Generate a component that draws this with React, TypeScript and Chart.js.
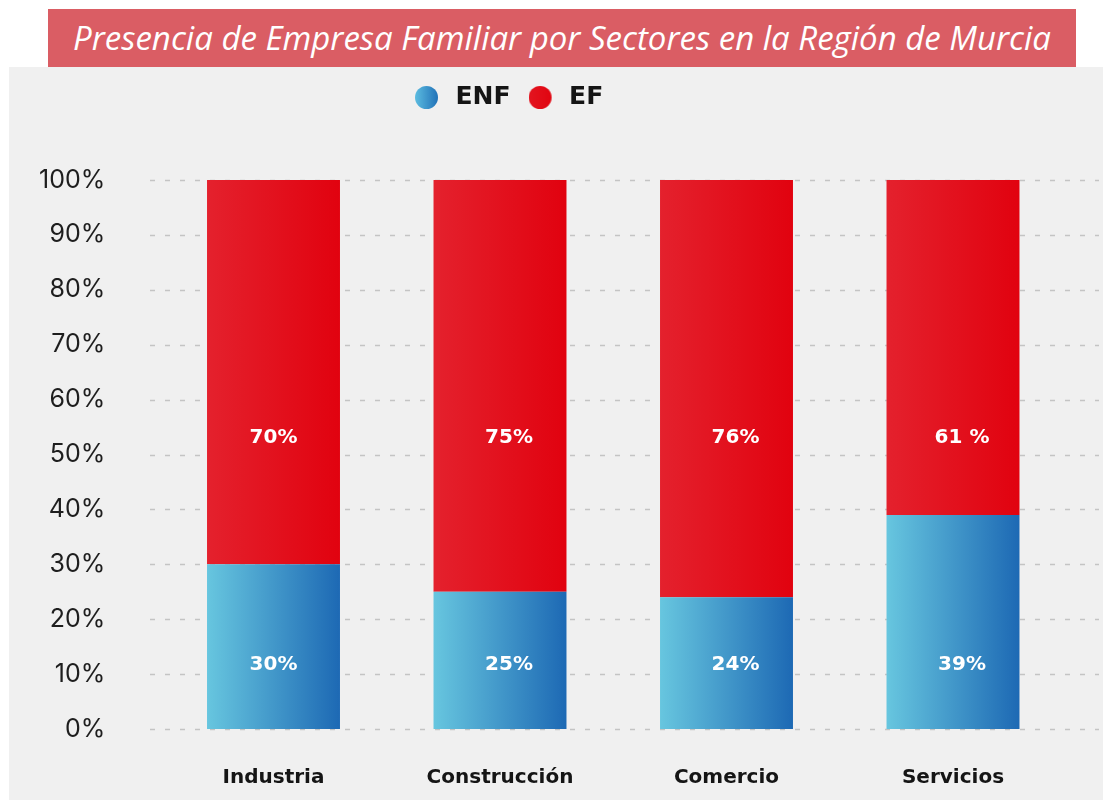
import React, { useEffect, useRef } from 'react';
import { Chart, registerables } from 'chart.js';

Chart.register(...registerables);

const TITLE = 'Presencia de Empresa Familiar por Sectores en la Región de Murcia';
const CATEGORIES = ['Industria', 'Construcción', 'Comercio', 'Servicios'];
const SERIES_NAMES = ['ENF', 'EF'];
const ENF_VALUES = [30, 25, 24, 39];
const EF_VALUES = [70, 75, 76, 61];
const ENF_LABELS = ['30%', '25%', '24%', '39%'];
const EF_LABELS = ['70%', '75%', '76%', '61 %'];

// styling / placement constants
const ENF_STOPS = ['#67C6DF', '#1D69B4'];
const EF_STOPS = ['#E4212D', '#E1020F'];
const BAR_PCT = 0.587;
const LABEL_Y_VALUE = [11.7, 53];
const LABEL_DX = [0, 9, 9, 9];
const GRID_X0 = 141;
const GRID_X1 = 1090;
const LEGEND_LEFT = 406;
const LEGEND_PAD = 18;

function barGradient(stops: string[]) {
  return (ctx: any) => {
    const chart = ctx.chart;
    const xs = chart.scales && chart.scales.x;
    if (!chart.chartArea || !xs || ctx.type !== 'data') return stops[1];
    const center = xs.getPixelForValue(ctx.dataIndex);
    const half = (xs.width / CATEGORIES.length) * BAR_PCT / 2;
    const g = chart.ctx.createLinearGradient(center - half, 0, center + half, 0);
    g.addColorStop(0, stops[0]);
    g.addColorStop(1, stops[1]);
    return g;
  };
}

function legendDot(stops: string[]) {
  const c = document.createElement('canvas');
  c.width = 28;
  c.height = 23;
  const x = c.getContext('2d')!;
  const g = x.createLinearGradient(0, 0, 23, 0);
  g.addColorStop(0, stops[0]);
  g.addColorStop(1, stops[1]);
  x.fillStyle = g;
  x.beginPath();
  x.arc(11.5, 11.5, 11.5, 0, Math.PI * 2);
  x.fill();
  return c;
}

const gridPlugin = {
  id: 'dashGrid',
  beforeDatasetsDraw(chart: any) {
    const y = chart.scales.y;
    const c = chart.ctx;
    c.save();
    c.strokeStyle = '#C4C4C4';
    c.lineWidth = 1.5;
    c.setLineDash([5, 10]);
    y.ticks.forEach((t: any) => {
      const py = Math.round(y.getPixelForValue(t.value)) + 0.5;
      c.beginPath();
      c.moveTo(GRID_X0, py);
      c.lineTo(GRID_X1, py);
      c.stroke();
    });
    c.restore();
  },
};

const labelPlugin = {
  id: 'segLabels',
  afterDatasetsDraw(chart: any) {
    const xs = chart.scales.x;
    const ys = chart.scales.y;
    const c = chart.ctx;
    const sets = [ENF_LABELS, EF_LABELS];
    c.save();
    c.fillStyle = '#FFFFFF';
    c.font = 'bold 20px "DejaVu Sans"';
    c.textAlign = 'center';
    c.textBaseline = 'middle';
    sets.forEach((labels, i) => {
      labels.forEach((txt, j) => {
        const px = xs.getPixelForValue(j) + LABEL_DX[j];
        const py = ys.getPixelForValue(LABEL_Y_VALUE[i]);
        c.fillText(txt, px, py);
      });
    });
    c.restore();
  },
};

const legendShift = {
  id: 'legendShift',
  afterLayout(chart: any) {
    const lg = chart.legend;
    if (!lg) return;
    const w = lg.right - lg.left;
    const h = lg.bottom - lg.top;
    lg.left = LEGEND_LEFT - LEGEND_PAD;
    lg.right = lg.left + w;
    lg.top = 0;
    lg.bottom = h;
  },
};

export default function App() {
  const ref = useRef<HTMLCanvasElement | null>(null);

  useEffect(() => {
    if (!ref.current) return;
    const dots = [legendDot(['#5CBCE0', '#2172B8']), legendDot(['#E31520', '#E10510'])];
    const chart = new Chart(ref.current, {
      type: 'bar',
      data: {
        labels: CATEGORIES,
        datasets: [
          {
            label: SERIES_NAMES[0],
            data: ENF_VALUES,
            backgroundColor: barGradient(ENF_STOPS),
            borderWidth: 0,
            barPercentage: BAR_PCT,
            categoryPercentage: 1,
          },
          {
            label: SERIES_NAMES[1],
            data: EF_VALUES,
            backgroundColor: barGradient(EF_STOPS),
            borderWidth: 0,
            barPercentage: BAR_PCT,
            categoryPercentage: 1,
          },
        ],
      },
      options: {
        responsive: false,
        animation: false,
        events: [],
        layout: { padding: { left: 0, right: 36.75, top: 0, bottom: 0 } },
        plugins: {
          tooltip: { enabled: false },
          legend: {
            position: 'top',
            align: 'start',
            labels: {
              usePointStyle: true,
              pointStyleWidth: 28,
              padding: LEGEND_PAD,
              color: '#151515',
              font: { family: '"DejaVu Sans"', size: 25, weight: 'bold' },
              generateLabels: () =>
                SERIES_NAMES.map((n, i) => ({
                  text: n,
                  fillStyle: i === 0 ? ENF_STOPS[0] : EF_STOPS[1],
                  strokeStyle: 'rgba(0,0,0,0)',
                  lineWidth: 0,
                  pointStyle: dots[i],
                  hidden: false,
                  datasetIndex: i,
                  fontColor: '#151515',
                })),
            },
          },
        },
        scales: {
          x: {
            stacked: true,
            grid: { display: false, drawTicks: false },
            border: { display: false },
            ticks: {
              color: '#151515',
              padding: 37,
              font: { family: '"DejaVu Sans"', size: 20, weight: 'bold' },
            },
            afterFit: (s: any) => {
              s.height = 71;
            },
          },
          y: {
            stacked: true,
            min: 0,
            max: 100,
            grid: { display: false, drawTicks: false },
            border: { display: false },
            ticks: {
              stepSize: 10,
              color: '#1E1E1E',
              padding: 55,
              font: { family: 'Inter', size: 25, weight: 'normal' },
              callback: (v: any) => v + '%',
            },
            afterFit: (s: any) => {
              s.width = 151.25;
              s.paddingTop = 113;
            },
          },
        },
      },
      plugins: [gridPlugin, labelPlugin, legendShift],
    } as any);
    return () => chart.destroy();
  }, []);

  return (
    <div style={{ position: 'absolute', left: 0, top: 0, width: 1103, height: 800, background: '#FFFFFF', overflow: 'hidden' }}>
      <div
        style={{
          position: 'absolute',
          left: 48,
          top: 9,
          width: 1028,
          height: 59,
          background: '#DA5D64',
          color: '#FFFFFF',
          fontFamily: '"Open Sans"',
          fontStyle: 'italic',
          fontSize: 33,
          lineHeight: '58px',
          textAlign: 'center',
          whiteSpace: 'nowrap',
        }}
      >
        {TITLE}
      </div>
      <div style={{ position: 'absolute', left: 9, top: 67, width: 1094, height: 733, background: '#F0F0F0' }}>
        <canvas ref={ref} width={1094} height={733} style={{ display: 'block' }} />
      </div>
    </div>
  );
}
